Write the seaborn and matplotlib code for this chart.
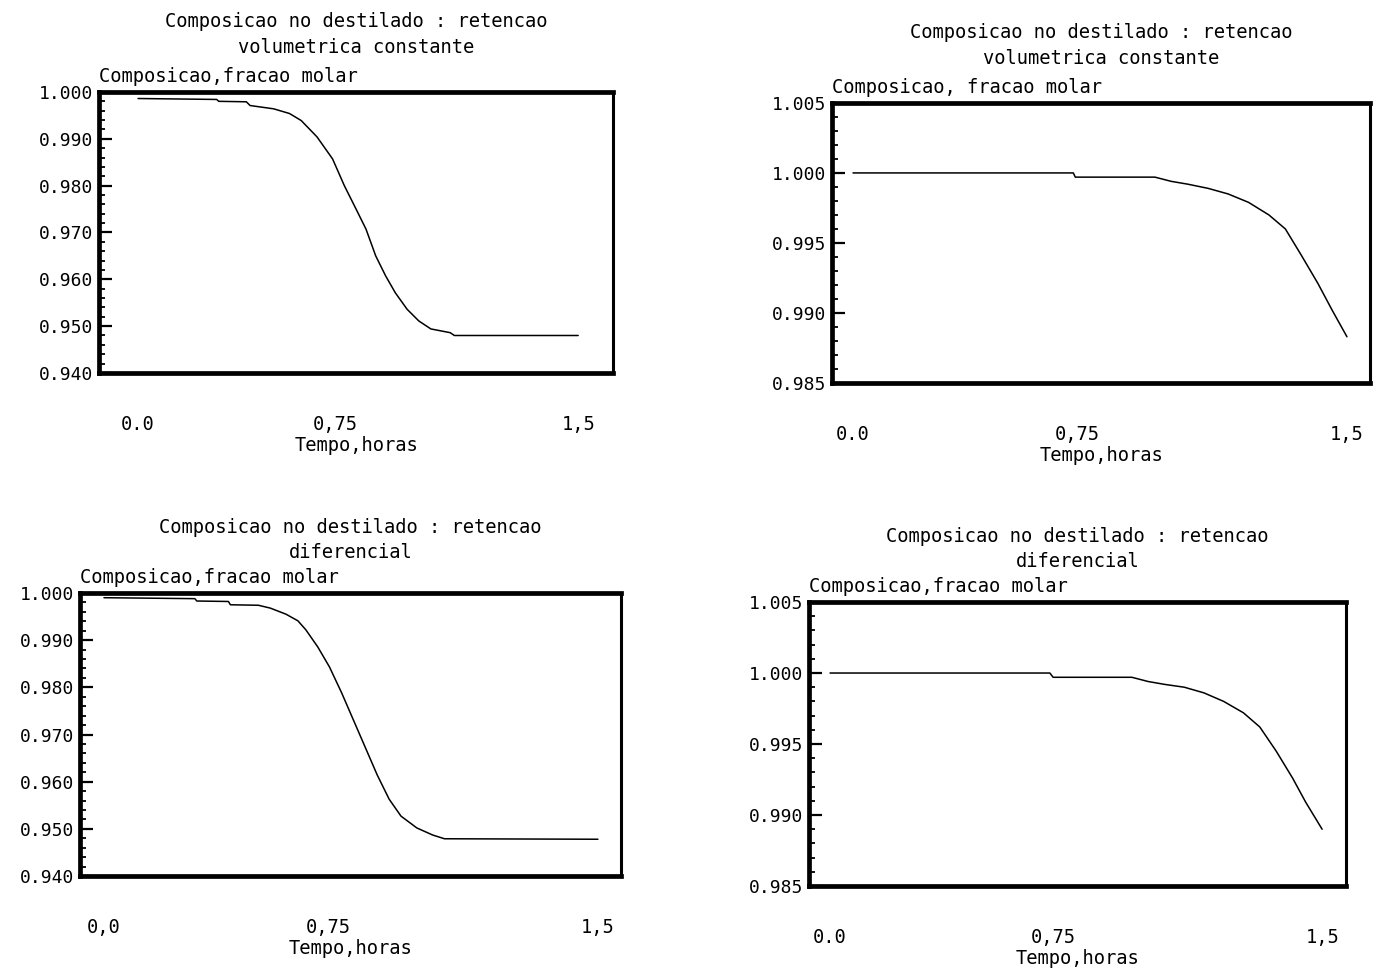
import matplotlib
matplotlib.use("Agg")
import matplotlib.pyplot as plt
from matplotlib.ticker import MultipleLocator, FormatStrFormatter
import pandas as pd
import seaborn as sns

# Distillate composition vs. time (hours), four simulation runs
t_vol_a = [0.0, 0.268, 0.275, 0.369, 0.382, 0.462, 0.516, 0.556, 0.610, 0.663, 0.703,
           0.743, 0.777, 0.810, 0.844, 0.877, 0.917, 0.957, 0.998, 1.064, 1.078, 1.5]
x_vol_a = [0.9986, 0.9984, 0.9980, 0.9979, 0.9971, 0.9964, 0.9954, 0.9939, 0.9904, 0.9857,
           0.9800, 0.9750, 0.9707, 0.9650, 0.9607, 0.9571, 0.9536, 0.9511, 0.9494, 0.9486,
           0.9480, 0.9480]

t_vol_b = [0.0, 0.669, 0.675, 0.917, 0.966, 1.016, 1.078, 1.139, 1.201, 1.263, 1.313,
           1.362, 1.412, 1.455, 1.5]
x_vol_b = [1.0000, 1.0000, 0.9997, 0.9997, 0.9994, 0.9992, 0.9989, 0.9985, 0.9979, 0.9970,
           0.9960, 0.9941, 0.9921, 0.9902, 0.9883]

t_dif_a = [0.0, 0.276, 0.282, 0.378, 0.384, 0.469, 0.505, 0.553, 0.589, 0.613, 0.649,
           0.685, 0.722, 0.758, 0.794, 0.830, 0.866, 0.902, 0.950, 0.998, 1.034, 1.5]
x_dif_a = [0.9990, 0.9988, 0.9983, 0.9982, 0.9975, 0.9974, 0.9968, 0.9955, 0.9941, 0.9922,
           0.9886, 0.9843, 0.9788, 0.9730, 0.9672, 0.9614, 0.9563, 0.9527, 0.9502, 0.9487,
           0.9479, 0.9478]

t_dif_b = [0.0, 0.67, 0.68, 0.92, 0.97, 1.02, 1.08, 1.14, 1.20, 1.26, 1.31, 1.36, 1.41,
           1.45, 1.5]
x_dif_b = [1.0000, 1.0000, 0.9997, 0.9997, 0.9994, 0.9992, 0.9990, 0.9986, 0.9980, 0.9972,
           0.9962, 0.9945, 0.9926, 0.9909, 0.9890]

title_vol = "Composicao no destilado : retencao\nvolumetrica constante"
title_dif = "Composicao no destilado : retencao\ndiferencial"
ylabel_a = "Composicao,fracao molar"
ylabel_b = "Composicao, fracao molar"
xlabel = "Tempo,horas"
xtick_vals = [0.0, 0.75, 1.5]
xticks_dot = ["0.0", "0,75", "1,5"]
xticks_comma = ["0,0", "0,75", "1,5"]

sns.set_theme(style="ticks")
plt.rcParams["font.family"] = ["DejaVu Sans Mono"]

fig = plt.figure(figsize=(13.83, 9.71), dpi=100)
fig.patch.set_facecolor("white")

FS = 13.5


def panel(rect, t, x, xlim, ylim, major, minor, title, ylabel, xticklabels, title_pad):
    ax = fig.add_axes(rect)
    df = pd.DataFrame({"t": t, "x": x})
    sns.lineplot(data=df, x="t", y="x", ax=ax, color="black", linewidth=1.1)
    ax.set_xlim(*xlim)
    ax.set_ylim(*ylim)
    ax.set_facecolor("white")
    for side in ["left", "top", "bottom"]:
        ax.spines[side].set_linewidth(3.4)
        ax.spines[side].set_color("black")
    ax.spines["right"].set_linewidth(2.2)
    ax.spines["right"].set_color("black")

    ax.yaxis.set_major_locator(MultipleLocator(major))
    ax.yaxis.set_minor_locator(MultipleLocator(minor))
    ax.yaxis.set_major_formatter(FormatStrFormatter("%.3f"))
    ax.tick_params(axis="y", which="major", direction="in", length=9, width=1.6,
                   pad=4, labelsize=FS - 0.5, colors="black")
    ax.tick_params(axis="y", which="minor", direction="in", length=4.5, width=1.3,
                   colors="black")

    ax.set_xticks(xtick_vals)
    ax.set_xticklabels(xticklabels)
    ax.tick_params(axis="x", which="both", length=0, pad=30, labelsize=FS,
                   colors="black")
    ax.get_xticklabels()[1].set_horizontalalignment("right")

    ax.set_xlabel(xlabel, fontsize=FS, labelpad=2, color="black")
    ax.set_ylabel(ylabel, fontsize=FS, rotation=0, ha="left", va="bottom",
                  color="black")
    ax.yaxis.set_label_coords(0.0, 1.02)
    ax.set_title(title, fontsize=FS, pad=title_pad, color="black", linespacing=1.45)
    ax.grid(False)
    return ax


panel([0.0716, 0.6159, 0.3717, 0.2894], t_vol_a, x_vol_a, (-0.133, 1.619),
      (0.940, 1.000), 0.010, 0.002, title_vol, ylabel_a, xticks_dot, 28)
panel([0.6016, 0.6056, 0.3890, 0.2884], t_vol_b, x_vol_b, (-0.0638, 1.570),
      (0.985, 1.005), 0.005, 0.001, title_vol, ylabel_b, xticks_dot, 28)
panel([0.0578, 0.0978, 0.3912, 0.2915], t_dif_a, x_dif_a, (-0.0729, 1.570),
      (0.940, 1.000), 0.010, 0.002, title_dif, ylabel_a, xticks_comma, 25)
panel([0.5850, 0.0875, 0.3883, 0.2925], t_dif_b, x_dif_b, (-0.064, 1.573),
      (0.985, 1.005), 0.005, 0.001, title_dif, ylabel_a, xticks_dot, 25)

fig.savefig("out.png", dpi=100, facecolor="white")
